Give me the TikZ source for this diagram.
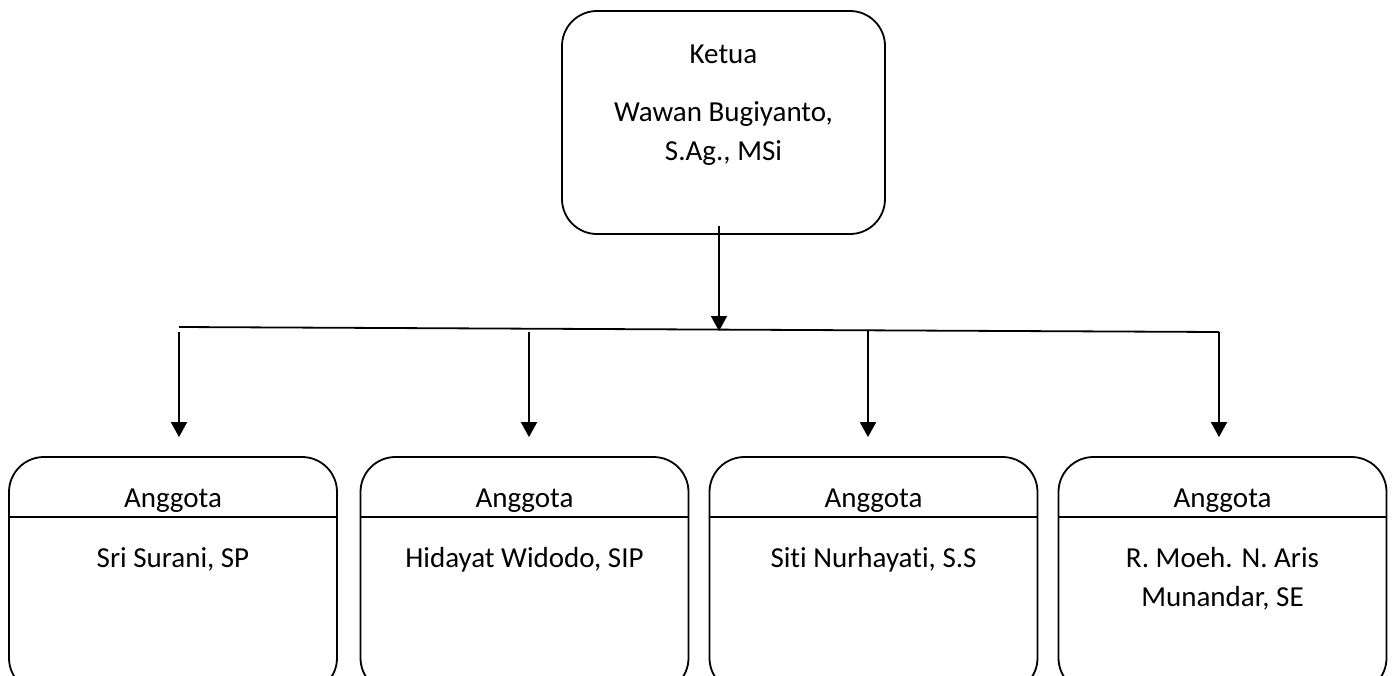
\documentclass[tikz,border=0pt]{standalone}
\usepackage{fontspec}
\setmainfont{Carlito}[Ligatures=NoCommon]
\usetikzlibrary{arrows.meta}

\begin{document}
\begin{tikzpicture}[x=1pt,y=-1pt,line width=1.8pt,
    kotak/.style={draw,rounded corners=35pt,inner sep=0pt},
    teks/.style={anchor=base,inner sep=0pt,font=\fontsize{29}{38.5}\selectfont,align=center},
    panah/.style={-{Triangle[width=16pt,length=15pt]}}]
  \useasboundingbox (0,0) rectangle (1395,675);
  \clip (0,0) rectangle (1395,675);
  % ketua
  \node[kotak,minimum width=323pt,minimum height=223pt] (ketua) at (723.5,122.5) {};
  \node[teks] (jabatan) at (723.5,63) {Ketua};
  \node[teks] (nama) at (723.5,160) {Wawan Bugiyanto,\\S.Ag., MSi};
  \coordinate (cabang) at (719,331);
  \draw[panah] ([xshift=-4.5pt,yshift=9pt]ketua.south) -- (cabang);
  % garis cabang
  \coordinate (busL) at (179,327);
  % anggota
  \foreach \i/\x/\ax/\ay/\ny/\nama in {1/173/179/332/567/{Sri Surani, SP},
      2/524.5/529/332/567/{Hidayat Widodo, SIP},
      3/873.5/868/331/567/{Siti Nurhayati, S.S},
      4/1222.5/1219/332/606/{R. Moeh. N. Aris\\Munandar, SE}} {
    \node[kotak,minimum width=328pt,minimum height=236pt] (anggota\i) at (\x,575) {};
    \draw (anggota\i.west |- 0,517) -- (anggota\i.east |- 0,517);
    \node[teks] (label\i) at (\x,507) {Anggota};
    \node[teks] (nama\i) at (\x,\ny) {\nama};
    \coordinate (atas\i) at (\ax,\ay);
    \draw[panah,shorten >=19pt] (atas\i) -- (atas\i |- anggota\i.north);
  }
  \draw (busL) -- (atas4);
\end{tikzpicture}
\end{document}
